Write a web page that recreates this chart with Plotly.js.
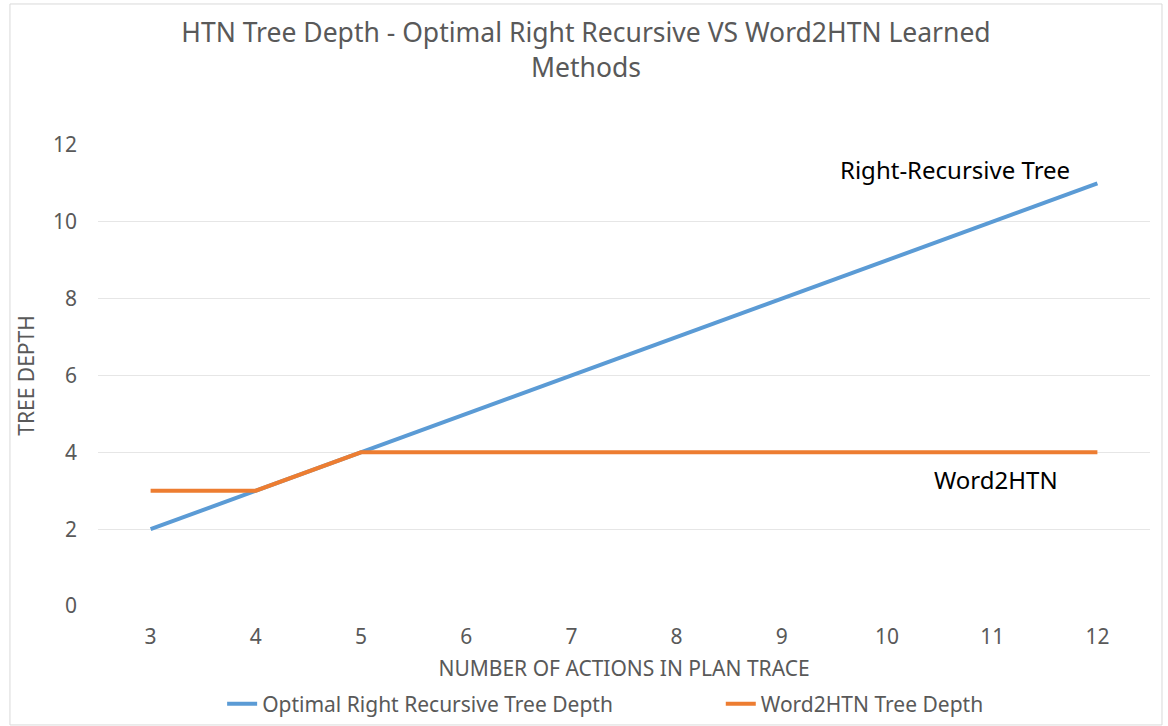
<!DOCTYPE html>
<html><head><meta charset="utf-8">
<script src="https://cdn.plot.ly/plotly-3.0.1.min.js"></script>
<style>body{margin:0;background:#fff}#c{width:1168px;height:726px}</style>
</head><body><div id="c"></div>
<script>
const actions = [3,4,5,6,7,8,9,10,11,12];
const optimalDepth = [2,3,4,5,6,7,8,9,10,11];
const word2htnDepth = [3,3,4,4,4,4,4,4,4,4];
const yTicks = [0,2,4,6,8,10,12];

const font = "Noto Sans, Open Sans, sans-serif";
const grey = '#595959';
const traces = [
  {x: actions, y: optimalDepth, type:'scatter', mode:'lines', name:'Optimal Right Recursive Tree Depth',
   line:{color:'#5B9BD5', width:4}, legend:'legend'},
  {x: actions, y: word2htnDepth, type:'scatter', mode:'lines', name:'Word2HTN Tree Depth',
   line:{color:'#ED7D31', width:4}, legend:'legend2'}
];
const legendBase = {orientation:'h', xanchor:'left', y:-0.213, yanchor:'middle', font:{size:21, color:grey},
    itemwidth:30, bgcolor:'rgba(0,0,0,0)'};
const layout = {
  width:1168, height:726,
  paper_bgcolor:'#fff', plot_bgcolor:'#fff',
  margin:{l:98, r:18, t:145, b:120, autoexpand:false},
  font:{family:font, color:grey},
  title:{text:'HTN Tree Depth - Optimal Right Recursive VS Word2HTN Learned<br>Methods',
    font:{size:26.5, color:grey, family:font}, x:0.5017, xanchor:'center', y:0.942, yanchor:'middle', yref:'container'},
  xaxis:{range:[2.5,12.5], tickvals:actions, ticktext:actions.map(String), showgrid:false, zeroline:false,
    showline:false, ticks:'', tickfont:{size:21, color:grey}, ticklabelstandoff:16, automargin:false,
    title:{text:'NUMBER OF ACTIONS IN PLAN TRACE', font:{size:21, color:grey}, standoff:12}},
  yaxis:{range:[0,12], tickvals:yTicks, showgrid:true, gridcolor:'#e6e6e6', gridwidth:1, zeroline:false,
    showline:false, ticks:'', tickfont:{size:21, color:grey}, ticklabelstandoff:20, automargin:false,
    title:{text:'TREE DEPTH', font:{size:21, color:grey}, standoff:12}},
  showlegend:true,
  legend:Object.assign({}, legendBase, {x:0.118}),
  legend2:Object.assign({}, legendBase, {x:0.592}),
  annotations:[
    {x:10.65, y:11.35, xref:'x', yref:'y', text:'Right-Recursive Tree', showarrow:false, font:{size:24, color:'#000'}},
    {x:11.04, y:3.28, xref:'x', yref:'y', text:'Word2HTN', showarrow:false, font:{size:24, color:'#000'}}
  ],
  shapes:[
    {type:'rect', xref:'paper', yref:'paper', x0:-0.0837, x1:1.0114, y0:-0.258, y1:1.3059,
     line:{color:'#d9d9d9', width:1}, fillcolor:'rgba(0,0,0,0)', layer:'below'}
  ]
};
Plotly.newPlot('c', traces, layout, {displayModeBar:false, staticPlot:true});
</script></body></html>
